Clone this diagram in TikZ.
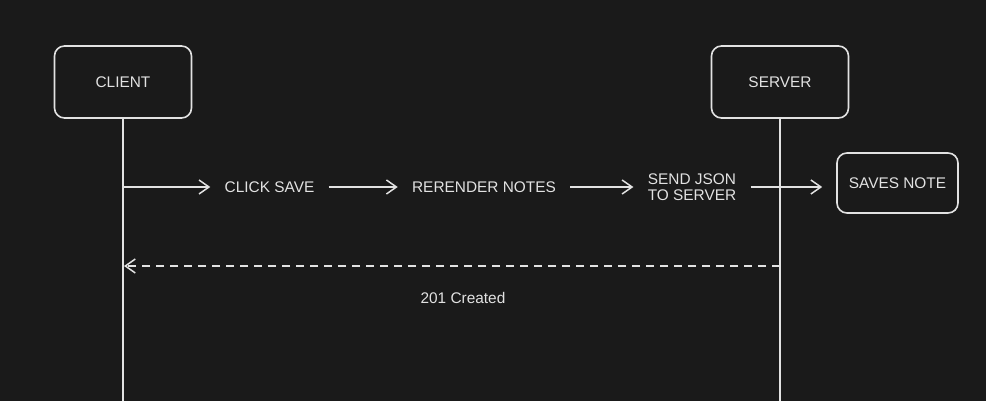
\documentclass[tikz,border=0pt]{standalone}
\usepackage{fontspec}
\setmainfont{Liberation Sans}
\usetikzlibrary{arrows.meta,positioning,calc}
\definecolor{bgdark}{RGB}{26,26,26}
\definecolor{inki}{RGB}{226,226,226}
\tikzset{>={Straight Barb[length=5pt,width=7pt]},
          actor/.style={
            rectangle,rounded corners=5pt,draw=inki,line width=0.8pt,
            minimum width=68.5pt,minimum height=36pt,
            font=\fontsize{7.7}{9}\selectfont,text=inki
          },
          texto/.style={inner xsep=7pt,inner ysep=1pt,align=center,
            font=\fontsize{7.7}{8}\selectfont,text=inki},
          msg/.style={->,draw=inki,line width=0.75pt},
          reply/.style={msg,dash pattern=on 4pt off 3pt},
          life/.style={draw=inki,line width=0.75pt}
        }

\begin{document}
\begin{tikzpicture}[x=0.5pt,y=-0.5pt,node distance=3pt and 0.5cm]

            \fill[bgdark] (0,0) rectangle (986,401);
            \useasboundingbox (0,0) rectangle (986,401);

            % the two parties and their lifelines
            \node[actor] (client) at (123,82) {CLIENT};
            \node[actor] (server) at (780,82) {SERVER};
            \coordinate (clientend) at (123,401);
            \coordinate (serverend) at (780,401);
            \draw[life] (client) -- (clientend);
            \draw[life] (server) -- (serverend);

            % request chain
            \node[texto] (click) at (269.5,187) {CLICK SAVE};
            \node[texto] (rerender) at (484,187) {RERENDER NOTES};
            \node[texto] (json) at (692,187) {SEND JSON\\TO SERVER};
            \node[actor,minimum width=60.5pt,minimum height=30pt]
              (saves) at (897.5,183) {SAVES NOTE};
            \coordinate (c1) at (client |- click);

            \draw[msg] (c1) -- (click);
            \draw[msg] (click) -- (rerender);
            \draw[msg] (rerender) -- (json);
            \draw[msg,shorten >=7pt] (json.east) -- (json.east -| saves.west);

            % response
            \coordinate (s2) at (780,266);
            \coordinate (c2) at (124,266);
            \draw[reply] (s2) -- (c2);
            \node[texto] (created) at (463,298) {201 Created};

\end{tikzpicture}
\end{document}
